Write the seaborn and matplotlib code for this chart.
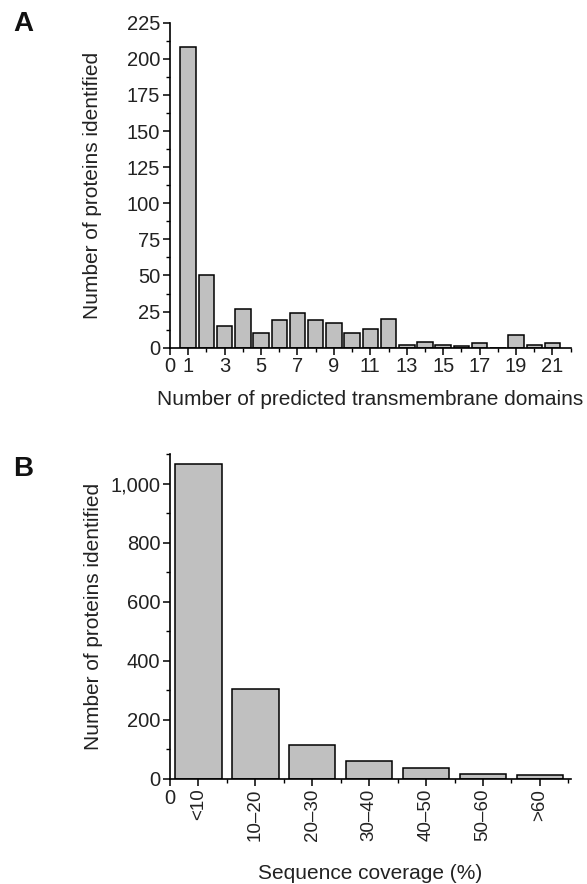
import matplotlib
matplotlib.use("Agg")
import matplotlib.pyplot as plt
import seaborn as sns
import pandas as pd
from matplotlib.ticker import MultipleLocator

# Panel A data
tm_domains = list(range(1, 22))
tm_counts = [208, 50, 15, 27, 10, 19, 24, 19, 17, 10, 13, 20, 2, 4, 2, 1, 3, 0, 9, 2, 3]
tm_tick_labels = ["0", "1", "3", "5", "7", "9", "11", "13", "15", "17", "19", "21"]
tm_tick_values = [0, 1, 3, 5, 7, 9, 11, 13, 15, 17, 19, 21]

# Panel B data
coverage_bins = ["<10", "10\u201320", "20\u201330", "30\u201340", "40\u201350", "50\u201360", ">60"]
coverage_counts = [1065, 303, 115, 62, 37, 18, 13]

sns.set_theme(style="ticks")
plt.rcParams["font.family"] = ["Liberation Sans", "DejaVu Sans"]

fig = plt.figure(figsize=(5.87, 8.84), dpi=100)
axA = fig.add_axes([0.2896, 0.6067, 0.6826, 0.3676])
axB = fig.add_axes([0.2896, 0.1188, 0.6826, 0.3676])

bar_color = "#c0c0c0"
fs_tick = 14.5
fs_lab = 15

dfA = pd.DataFrame({"domains": tm_domains, "count": tm_counts})
sns.barplot(data=dfA, x="domains", y="count", native_scale=True, color=bar_color,
            edgecolor="black", linewidth=1.1, width=0.85, saturation=1, ax=axA)
axA.set_xlim(0, 22)
axA.set_ylim(0, 225)
axA.set_xticks(tm_tick_values)
axA.set_xticklabels(tm_tick_labels)
axA.xaxis.set_minor_locator(MultipleLocator(1))
axA.yaxis.set_major_locator(MultipleLocator(25))
axA.yaxis.set_minor_locator(MultipleLocator(12.5))
axA.set_xlabel("Number of predicted transmembrane domains", fontsize=fs_lab, va="center")
axA.set_ylabel("Number of proteins identified", fontsize=fs_lab, va="center")
axA.xaxis.set_label_coords(0.5, -(400 - 347.7) / 325)
axA.yaxis.set_label_coords(-(170 - 93) / 400.7, 0.5)

dfB = pd.DataFrame({"coverage": coverage_bins, "count": coverage_counts})
sns.barplot(data=dfB, x="coverage", y="count", color=bar_color, edgecolor="black",
            linewidth=1.1, width=0.815, saturation=1, ax=axB)
axB.set_xlim(-0.5, 6.54)
axB.set_ylim(0, 1100)
axB.set_xticks([-0.5] + list(range(len(coverage_bins))))
lbls = axB.set_xticklabels(["0"] + coverage_bins)
for i, t in enumerate(lbls):
    if i > 0:
        t.set_rotation(90)
        t.set_va("top")
        t.set_fontsize(13.5)
axB.set_xticks([i + 0.5 for i in range(len(coverage_bins))], minor=True)
axB.yaxis.set_major_locator(MultipleLocator(200))
axB.yaxis.set_minor_locator(MultipleLocator(100))
axB.yaxis.set_major_formatter(matplotlib.ticker.FuncFormatter(lambda v, p: f"{int(v):,}"))
axB.set_xlabel("Sequence coverage (%)", fontsize=fs_lab, va="center")
axB.set_ylabel("Number of proteins identified", fontsize=fs_lab, va="center")
axB.xaxis.set_label_coords(0.5, -(874 - 779) / 325)
axB.yaxis.set_label_coords(-(170 - 94) / 400.7, 0.5)

for ax in (axA, axB):
    sns.despine(ax=ax)
    for s in ("left", "bottom"):
        ax.spines[s].set_linewidth(1.2)
        ax.spines[s].set_color("black")
    ax.tick_params(which="major", length=5, width=1.1, color="black",
                   labelsize=fs_tick, labelcolor="#222222", direction="out", pad=2)
    ax.tick_params(which="minor", length=3, width=1.0, color="black", direction="out")
    ax.xaxis.label.set_color("#222222")
    ax.yaxis.label.set_color("#222222")

for t in lbls[1:]:
    t.set_fontsize(13.5)

fig.text(0.022, 0.988, "A", fontsize=20, fontweight="bold", va="top", ha="left",
         family=["Liberation Sans Narrow", "Liberation Sans"], color="#111111")
fig.text(0.022, 0.4847, "B", fontsize=20, fontweight="bold", va="top", ha="left",
         family=["Liberation Sans Narrow", "Liberation Sans"], color="#111111")

fig.savefig("out.png", dpi=100)
